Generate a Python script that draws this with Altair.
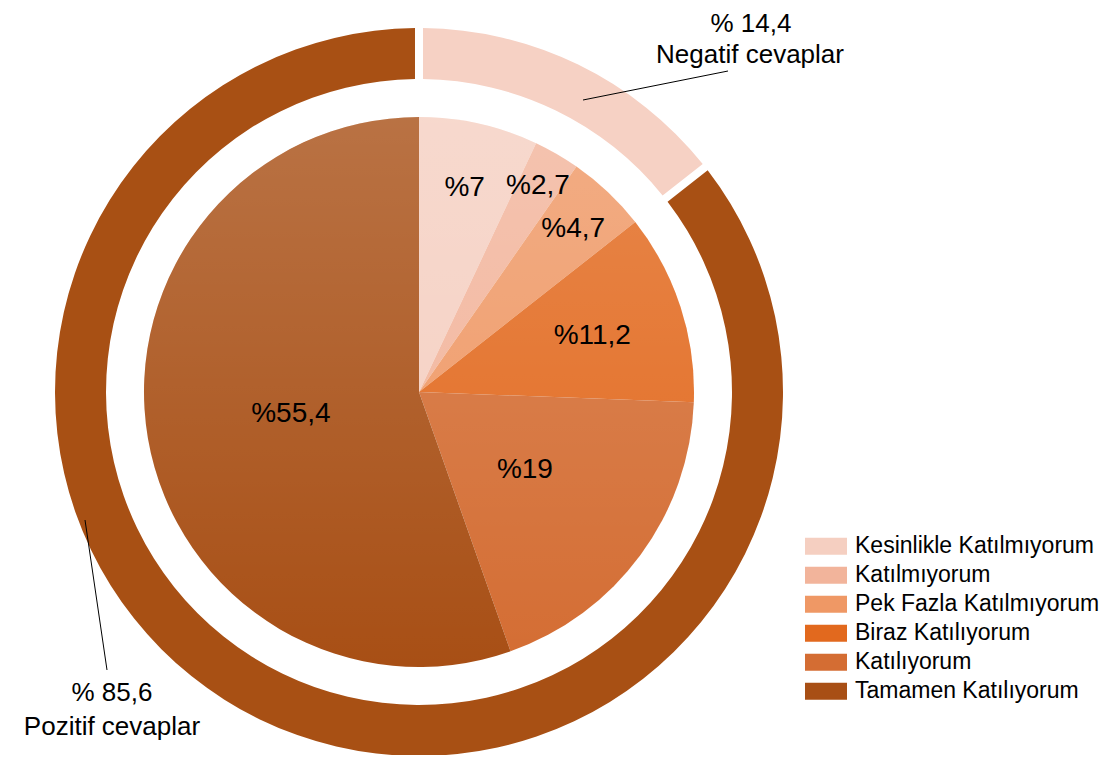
import math
import altair as alt
import pandas as pd

# ---- data ----
categories = [
    "Kesinlikle Katılmıyorum",
    "Katılmıyorum",
    "Pek Fazla Katılmıyorum",
    "Biraz Katılıyorum",
    "Katılıyorum",
    "Tamamen Katılıyorum",
]
values = [7, 2.7, 4.7, 11.2, 19, 55.4]
value_labels = ["%7", "%2,7", "%4,7", "%11,2", "%19", "%55,4"]
colors = ["#f5cfc1", "#f2b49b", "#ef9865", "#e2691e", "#d46d33", "#a84f15"]

groups = ["Negatif cevaplar", "Pozitif cevaplar"]
group_values = [14.4, 85.6]
group_labels = ["% 14,4", "% 85,6"]
group_colors = ["#f6d1c4", "#a85014"]

FONT = "Liberation Sans"
CX, CY = 411, 384
R_PIE = 275
R_RING_IN, R_RING_OUT = 313, 364

pie_df = pd.DataFrame({
    "category": categories,
    "value": values,
    "label": value_labels,
    "idx": list(range(len(categories))),
})
ring_df = pd.DataFrame({
    "group": groups,
    "share": group_values,
    "col": group_colors,
    "idx": list(range(len(groups))),
})

pos = dict(x=alt.value(CX), y=alt.value(CY))

pie = alt.Chart(pie_df).mark_arc(radius=R_PIE).encode(
    theta=alt.Theta("value:Q", stack=True),
    color=alt.Color(
        "category:N",
        scale=alt.Scale(domain=categories, range=colors),
        sort=categories,
        legend=alt.Legend(
            title=None,
            orient="none",
            legendX=797,
            legendY=524,
            symbolType="M-1,-0.405H1V0.405H-1Z",
            symbolSize=1764,
            symbolStrokeWidth=0,
            symbolOpacity=1,
            labelFont=FONT,
            labelFontSize=23,
            labelColor="black",
            labelOffset=8,
            labelLimit=400,
            clipHeight=28.7,
            rowPadding=0,
            padding=0,
        ),
    ),
    order=alt.Order("idx:Q"),
    **pos,
)

shade = alt.Chart(pd.DataFrame({"k": [0]})).mark_arc(
    radius=R_PIE,
    theta=0,
    theta2=2 * math.pi,
    fill=alt.LinearGradient(
        gradient="linear",
        stops=[
            alt.GradientStop(color="rgba(255,255,255,0.2)", offset=0),
            alt.GradientStop(color="rgba(255,255,255,0)", offset=1),
        ],
        x1=0, x2=0, y1=0, y2=1,
    ),
).encode(**pos)

pie_text = alt.Chart(pie_df).transform_window(
    cum="sum(value)", sort=[alt.SortField("idx")], frame=[None, 0]
).transform_joinaggregate(
    total="sum(value)"
).transform_calculate(
    mid="(datum.cum - datum.value / 2) / datum.total * 2 * PI",
    lr="clamp(255 - 6.5 * datum.value, 130, 250)",
).mark_text(font=FONT, fontSize=28, color="black").encode(
    theta=alt.Theta("mid:Q", scale=None),
    radius=alt.Radius("lr:Q", scale=None),
    text="label:N",
    **pos,
)

ring = alt.Chart(ring_df).mark_arc(
    radius=R_RING_OUT, radius2=R_RING_IN, padAngle=0.0167
).encode(
    theta=alt.Theta("share:Q", stack=True),
    color=alt.Color("col:N", scale=None, legend=None),
    order=alt.Order("idx:Q"),
    **pos,
)

one = pd.DataFrame({"k": [0]})
lead_neg = alt.Chart(one).mark_rule(color="black", strokeWidth=1).encode(
    x=alt.value(575), y=alt.value(92), x2=alt.value(720), y2=alt.value(63)
)
lead_pos = alt.Chart(one).mark_rule(color="black", strokeWidth=1).encode(
    x=alt.value(77), y=alt.value(512), x2=alt.value(99), y2=alt.value(662)
)

def ann(txt, x, y):
    return alt.Chart(one).mark_text(
        text=txt, font=FONT, fontSize=26, color="black",
        align="center", baseline="alphabetic",
    ).encode(x=alt.value(x), y=alt.value(y))

chart = alt.layer(
    ring, pie, shade, pie_text, lead_neg, lead_pos,
    ann(group_labels[0], 743, 24), ann(groups[0], 742, 55),
    ann(group_labels[1], 104, 693), ann(groups[1], 104, 727),
).resolve_scale(color="independent").properties(
    width=1100, height=747, padding=0, autosize=alt.AutoSizeParams(type="none")
).configure_view(strokeWidth=0)

chart.save("out.html", embed_options={"renderer": "svg", "actions": False})
